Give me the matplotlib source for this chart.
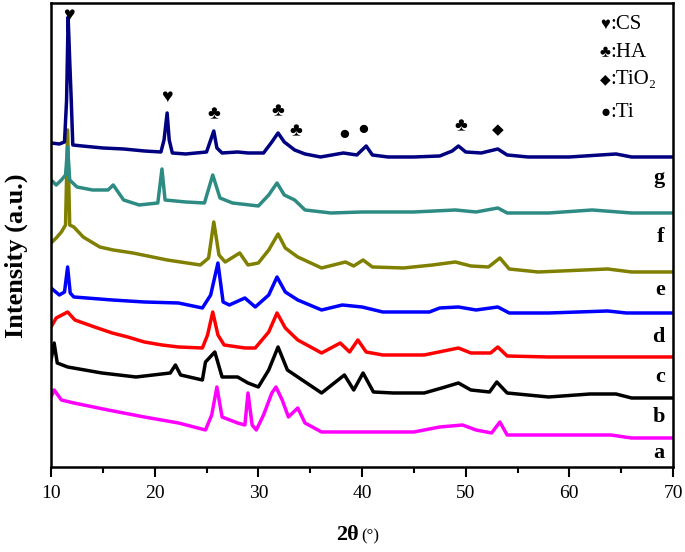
import numpy as np
import matplotlib
matplotlib.use("Agg")
import matplotlib.pyplot as plt

# XRD patterns a..g, 2theta (deg) and intensity (a.u.)
x_a = [10.0, 10.3, 11.0, 12.2, 15.5, 19.0, 22.3, 24.9, 25.5, 26.0, 26.5, 28.0, 28.7, 29.0, 29.4, 29.8,
       30.5, 31.3, 31.7, 32.3, 32.9, 33.8, 34.5, 36.1, 40.0, 45.0, 47.5, 49.7, 51.0, 52.5, 53.3, 54.0,
       58.0, 64.0, 66.0, 70.0]
y_a = [70, 77, 67, 64, 57, 50, 44, 37, 52, 80, 50, 44, 42, 74, 42, 37,
       52, 74, 80, 67, 50, 59, 44, 35, 35, 35, 40, 42, 37, 34, 45, 32,
       32, 32, 29, 29]

x_b = [10.0, 10.3, 10.6, 11.6, 14.9, 18.2, 21.5, 22.0, 22.5, 24.6, 24.9, 25.8, 26.5, 28.0, 29.0, 30.0,
       31.0, 31.9, 32.8, 33.8, 36.1, 38.3, 39.2, 40.1, 41.1, 43.0, 46.0, 47.7, 49.3, 50.5, 52.3, 53.0,
       54.0, 58.0, 62.0, 64.5, 66.0, 70.0]
y_b = [107, 124, 104, 100, 94, 90, 94, 102, 92, 87, 105, 115, 90, 90, 84, 80,
       97, 120, 97, 90, 74, 92, 77, 94, 75, 74, 74, 79, 84, 77, 75, 85,
       74, 70, 73, 73, 69, 69]

x_c = [10.0, 10.5, 11.6, 12.3, 14.2, 15.9, 17.4, 19.0, 20.7, 22.3, 24.6, 25.1, 25.6, 26.1, 26.7, 28.7,
       29.7, 31.0, 31.8, 32.6, 33.8, 36.1, 37.9, 38.8, 39.6, 40.4, 42.0, 46.0, 49.3, 50.5, 52.4, 53.1,
       54.0, 58.0, 65.0, 70.0]
y_c = [140, 149, 155, 147, 140, 134, 130, 125, 122, 120, 119, 132, 155, 132, 122, 119,
       119, 135, 154, 139, 127, 114, 124, 115, 127, 115, 112, 112, 119, 114, 114, 120,
       111, 110, 110, 110]

x_d = [10.0, 10.8, 11.3, 11.6, 11.85, 12.2, 15.9, 19.0, 22.3, 24.6, 25.4, 26.1, 26.6, 27.2, 28.7, 29.7,
       31.0, 31.8, 32.6, 33.8, 36.1, 38.1, 40.0, 42.0, 46.5, 47.5, 49.3, 51.0, 53.1, 54.2, 58.0, 63.7,
       65.5, 70.0]
y_d = [179, 172, 175, 200, 174, 170, 167, 165, 164, 159, 172, 204, 165, 162, 169, 160,
       172, 190, 175, 167, 157, 162, 160, 155, 155, 159, 160, 157, 160, 154, 154, 156,
       154, 154]

x_e = [10.0, 10.5, 11.0, 11.4, 11.6, 11.8, 12.2, 13.1, 14.7, 16.0, 17.9, 21.2, 24.4, 25.2, 25.7, 26.2,
       26.8, 28.2, 29.0, 30.0, 31.0, 31.9, 32.6, 33.8, 36.1, 38.4, 39.2, 40.1, 41.0, 44.0, 46.8, 49.0,
       50.5, 52.2, 53.3, 54.2, 57.0, 63.7, 66.0, 70.0]
y_e = [224, 229, 235, 242, 337, 242, 240, 230, 220, 217, 214, 207, 202, 209, 245, 212,
       205, 214, 202, 204, 217, 233, 219, 210, 199, 205, 201, 207, 200, 199, 202, 205,
       201, 200, 209, 198, 195, 198, 195, 195]

x_f = [10.0, 10.5, 11.0, 11.4, 11.6, 11.8, 12.5, 14.0, 15.5, 16.0, 17.0, 18.5, 20.3, 20.7, 21.0, 23.0,
       24.8, 25.6, 26.3, 27.5, 30.0, 31.0, 31.8, 32.5, 33.5, 34.5, 37.0, 40.0, 45.0, 49.0, 51.0, 53.1,
       54.0, 58.0, 62.2, 66.0, 70.0]
y_f = [287, 282, 287, 292, 320, 287, 280, 277, 277, 282, 267, 262, 264, 298, 267, 265,
       264, 292, 269, 264, 261, 272, 284, 272, 267, 257, 254, 255, 255, 257, 255, 259,
       254, 254, 257, 254, 254]

x_g = [10.0, 10.8, 11.3, 11.5, 11.65, 11.8, 11.95, 12.1, 13.0, 15.0, 17.0, 19.0, 20.6, 20.9, 21.2, 21.4,
       21.7, 23.0, 25.0, 25.4, 25.7, 26.0, 26.5, 28.0, 29.0, 30.5, 31.3, 31.9, 32.5, 33.5, 34.5, 36.0,
       38.2, 39.5, 40.4, 41.0, 42.5, 45.0, 47.5, 48.7, 49.3, 50.0, 51.5, 53.1, 54.0, 56.0, 60.0, 63.0,
       64.5, 66.0, 70.0]
y_g = [324, 323, 325, 367, 450, 407, 367, 322, 321, 319, 318, 316, 315, 327, 354, 327,
       314, 313, 315, 327, 336, 319, 314, 315, 314, 314, 325, 334, 325, 317, 313, 310,
       314, 312, 321, 312, 310, 310, 311, 316, 321, 315, 314, 318, 312, 310, 310, 312,
       313, 310, 310]

series = [
    (x_a, y_a, "#ff00ff", "a", 14),
    (x_b, y_b, "#000000", "b", 50),
    (x_c, y_c, "#ff0000", "c", 90),
    (x_d, y_d, "#0000ff", "d", 130),
    (x_e, y_e, "#808000", "e", 177),
    (x_f, y_f, "#2e8b83", "f", 230),
    (x_g, y_g, "#000080", "g", 289),
]

# phase markers above peaks
peak_marks = [
    (11.7, 452, "\u2665"), (21.2, 370, "\u2665"),
    (25.7, 352, "\u2663"), (31.9, 355, "\u2663"), (33.6, 335, "\u2663"), (49.5, 340, "\u2663"),
    (38.3, 332, "\u25cf"), (40.1, 337, "\u25cf"),
    (53.1, 336, "\u25c6"),
]
legend_syms = ["\u2665", "\u2663", "\u25c6", "\u25cf"]
legend_names = [":CS", ":HA", ":TiO\u2082", ":Ti"]
legend_y = [442, 414, 387, 354]

serif = ["Liberation Serif", "DejaVu Sans"]

fig = plt.figure(figsize=(6.85, 5.52), dpi=100)
ax = fig.add_axes([0.0745, 0.154, 0.908, 0.8406])

for xs, ys, col, lab, ly in series:
    ax.plot(xs, ys, color=col, lw=2.5)
    ax.text(69.2, ly, lab, ha="right", va="center", fontsize=16, fontweight="bold",
            family=serif)

for px, py, sym in peak_marks:
    # the diamond glyph comes from DejaVu and runs larger
    fs = 11 if sym == "\u25c6" else 14
    ax.text(px, py, sym, ha="center", va="center", fontsize=fs, family=serif)

for sym, name, ly in zip(legend_syms, legend_names, legend_y):
    fs = 10 if sym == "\u25c6" else 12
    ax.text(63.45, ly, sym, ha="center", va="center", fontsize=fs, family=serif)
    ax.text(63.95, ly, name, ha="left", va="center", fontsize=15, family=serif)

ax.set_xlim(10, 70)
ax.set_ylim(0, 464)
ax.set_xticks(np.arange(10, 71, 10))
ax.set_xticks(np.arange(15, 70, 10), minor=True)
ax.set_yticks([])
ax.tick_params(axis="x", which="major", direction="out", length=7, width=1.5,
               labelsize=14, pad=6)
ax.tick_params(axis="x", which="minor", direction="out", length=4, width=1.5)
for lbl in ax.get_xticklabels():
    lbl.set_family(serif)
for sp in ax.spines.values():
    sp.set_linewidth(1.8)

ax.set_ylabel("Intensity (a.u.)", fontsize=19, fontweight="bold", family=serif)
ax.yaxis.set_label_coords(-0.037, 0.455)

fig.text(0.523, 0.013, "2\u03b8", ha="right", va="bottom", fontsize=16, fontweight="bold",
         family=serif)
fig.text(0.528, 0.013, "(\u00b0)", ha="left", va="bottom", fontsize=12, family=serif)

fig.savefig("out.png", dpi=100)
